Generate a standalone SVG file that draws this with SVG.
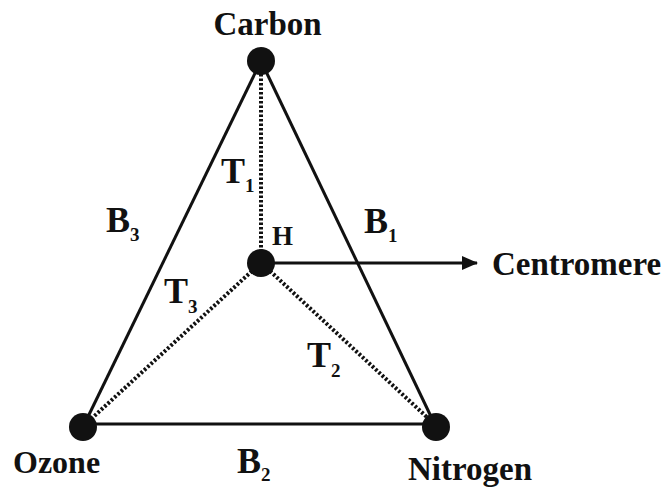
<svg xmlns="http://www.w3.org/2000/svg" width="669" height="487" viewBox="0 0 669 487">
<style>
.t{font-family:"Liberation Serif","Times New Roman",serif;font-weight:bold;fill:#111;}
.lbl{font-size:33px;}
.big{font-size:36px;}
.sub{font-size:19px;}
.solid{stroke:#111;stroke-width:3;fill:none;}
.dot{stroke:#111;stroke-width:4;stroke-dasharray:2.5 2;fill:none;}
.node{fill:#111;}
</style>
<defs>
<marker id="arr" markerWidth="16" markerHeight="14" refX="15" refY="7" orient="auto" markerUnits="userSpaceOnUse" viewBox="0 0 16 14">
<path d="M0,0 L16,7 L0,14 Z" fill="#111"/>
</marker>
</defs>
<rect width="669" height="487" fill="#fff"/>
<g id="connectors">
<line class="solid" x1="261" y1="61" x2="83" y2="427"/>
<line class="solid" x1="261" y1="61" x2="436" y2="427"/>
<line class="solid" x1="83" y1="424" x2="436" y2="424"/>
<line class="dot" x1="261" y1="74" x2="261" y2="250"/>
<line class="dot" x1="252" y1="271" x2="90" y2="420"/>
<line class="dot" x1="270" y1="271" x2="430" y2="420"/>
<line class="solid" x1="272" y1="263" x2="477" y2="263" stroke-width="2.5" marker-end="url(#arr)"/>
</g>
<g id="carbon">
<circle class="node" cx="261" cy="61" r="14"/>
<text class="t lbl" x="267.5" y="35" text-anchor="middle">Carbon</text>
</g>
<g id="h">
<circle class="node" cx="261" cy="263" r="14"/>
<text class="t" x="272" y="245" font-size="27">H</text>
</g>
<g id="ozone">
<circle class="node" cx="83" cy="427" r="14"/>
<text class="t" x="13" y="473" font-size="32">Ozone</text>
</g>
<g id="nitrogen">
<circle class="node" cx="436" cy="427" r="14"/>
<text class="t lbl" x="408" y="480">Nitrogen</text>
</g>
<g id="centromere">
<text class="t lbl" x="492" y="275">Centromere</text>
</g>
<g id="labels">
<text class="t big" x="106" y="232">B<tspan class="sub" dy="9">3</tspan></text>
<text class="t big" x="364" y="233">B<tspan class="sub" dy="9">1</tspan></text>
<text class="t big" x="237" y="473">B<tspan class="sub" dy="8">2</tspan></text>
<text class="t big" x="221" y="183">T<tspan class="sub" dy="9">1</tspan></text>
<text class="t big" x="164" y="303">T<tspan class="sub" dy="10">3</tspan></text>
<text class="t big" x="307" y="367">T<tspan class="sub" dy="10">2</tspan></text>
</g>
</svg>
